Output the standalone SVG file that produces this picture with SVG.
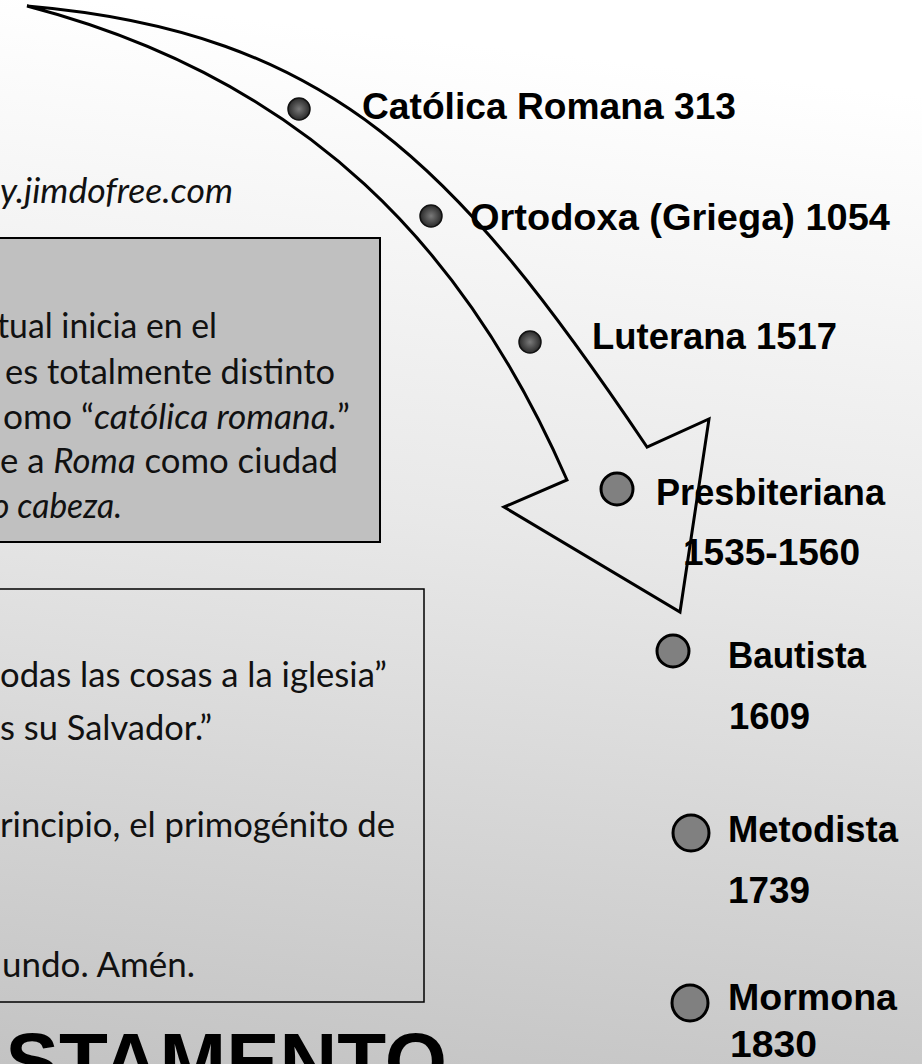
<svg xmlns="http://www.w3.org/2000/svg" width="922" height="1064" viewBox="0 0 922 1064">
  <defs>
    <linearGradient id="bg" x1="0.1" y1="0" x2="0" y2="1">
      <stop offset="0" stop-color="#ffffff"/>
      <stop offset="0.45" stop-color="#e8e8e8"/>
      <stop offset="1" stop-color="#c3c3c3"/>
    </linearGradient>
    <radialGradient id="dot" cx="0.5" cy="0.5" r="0.5">
      <stop offset="0" stop-color="#7a7a7a"/>
      <stop offset="0.6" stop-color="#4a4a4a"/>
      <stop offset="1" stop-color="#2a2a2a"/>
    </radialGradient>
    <style>
      .body { font-family: Lato, "Liberation Sans", sans-serif; font-size: 35px; fill: #111; }
      .it { font-style: italic; }
      .lbl { font-family: "Liberation Sans", Arial, sans-serif; font-weight: bold; font-size: 36px; fill: #000; }
      .sdot { fill: url(#dot); stroke: #111; stroke-width: 1.5; }
      .bdot { fill: #808080; stroke: #000; stroke-width: 3; }
      .arrow { fill: none; stroke: #000; stroke-width: 3; stroke-linejoin: miter; }
    </style>
  </defs>

  <rect x="0" y="0" width="922" height="1064" fill="url(#bg)"/>

  <g id="url">
    <text class="body it" x="0" y="203" font-size="28" textLength="233" lengthAdjust="spacingAndGlyphs">y.jimdofree.com</text>
  </g>

  <g id="box1">
    <rect x="-5" y="238" width="385" height="304" fill="#c0c0c0" stroke="#000" stroke-width="2"/>
    <text class="body" x="-3" y="338" textLength="220" lengthAdjust="spacingAndGlyphs">tual inicia en el</text>
    <text class="body" x="5" y="384" textLength="330" lengthAdjust="spacingAndGlyphs">es totalmente distinto</text>
    <text class="body" x="3" y="429" textLength="347" lengthAdjust="spacingAndGlyphs">omo “<tspan class="it">católica romana.</tspan>”</text>
    <text class="body" x="0" y="473" textLength="338" lengthAdjust="spacingAndGlyphs">e a <tspan class="it">Roma</tspan> como ciudad</text>
    <text class="body it" x="-8" y="518" textLength="130" lengthAdjust="spacingAndGlyphs">o cabeza.</text>
  </g>

  <g id="box2">
    <rect x="-5" y="589" width="429" height="413" fill="none" stroke="#000" stroke-width="1.5"/>
    <text class="body" x="0" y="687" textLength="387" lengthAdjust="spacingAndGlyphs">odas las cosas a la iglesia”</text>
    <text class="body" x="0" y="740" textLength="212" lengthAdjust="spacingAndGlyphs">s su Salvador.”</text>
    <text class="body" x="0" y="837" textLength="395" lengthAdjust="spacingAndGlyphs">rincipio, el primogénito de</text>
    <text class="body" x="2" y="977" textLength="193" lengthAdjust="spacingAndGlyphs">undo. Amén.</text>
  </g>

  <g id="title">
    <text x="447" y="1089" text-anchor="end" font-family="'Liberation Sans', Arial, sans-serif" font-weight="bold" font-size="80" fill="#000">STAMENTO</text>
  </g>

  <g id="connectors">
    <path class="arrow" d="M27,6 C330,32 457,165 647,447 L709,419 L680,612 L504,507 L567,480 C467,250 307,79 27,6 Z"/>
  </g>

  <g id="n-catolica">
    <circle class="sdot" cx="299" cy="109" r="11"/>
    <text class="lbl" x="362" y="119" textLength="374" lengthAdjust="spacingAndGlyphs">Católica Romana 313</text>
  </g>
  <g id="n-ortodoxa">
    <circle class="sdot" cx="431" cy="216" r="11"/>
    <text class="lbl" x="470" y="230" textLength="420" lengthAdjust="spacingAndGlyphs">Ortodoxa (Griega) 1054</text>
  </g>
  <g id="n-luterana">
    <circle class="sdot" cx="530" cy="342" r="11"/>
    <text class="lbl" x="592" y="349" textLength="245" lengthAdjust="spacingAndGlyphs">Luterana 1517</text>
  </g>
  <g id="n-presbiteriana">
    <circle class="bdot" cx="617" cy="489" r="16"/>
    <text class="lbl" x="656" y="505" textLength="229" lengthAdjust="spacingAndGlyphs">Presbiteriana</text>
    <text class="lbl" x="683" y="565" textLength="177" lengthAdjust="spacingAndGlyphs">1535-1560</text>
  </g>
  <g id="n-bautista">
    <circle class="bdot" cx="673" cy="651" r="16"/>
    <text class="lbl" x="728" y="668" textLength="138" lengthAdjust="spacingAndGlyphs">Bautista</text>
    <text class="lbl" x="729" y="729" textLength="81" lengthAdjust="spacingAndGlyphs">1609</text>
  </g>
  <g id="n-metodista">
    <circle class="bdot" cx="691" cy="833" r="18"/>
    <text class="lbl" x="728" y="842" textLength="170" lengthAdjust="spacingAndGlyphs">Metodista</text>
    <text class="lbl" x="728" y="903" textLength="82" lengthAdjust="spacingAndGlyphs">1739</text>
  </g>
  <g id="n-mormona">
    <circle class="bdot" cx="690" cy="1003" r="18"/>
    <text class="lbl" x="728" y="1010" textLength="169" lengthAdjust="spacingAndGlyphs">Mormona</text>
    <text class="lbl" x="730" y="1057" textLength="87" lengthAdjust="spacingAndGlyphs">1830</text>
  </g>
</svg>
